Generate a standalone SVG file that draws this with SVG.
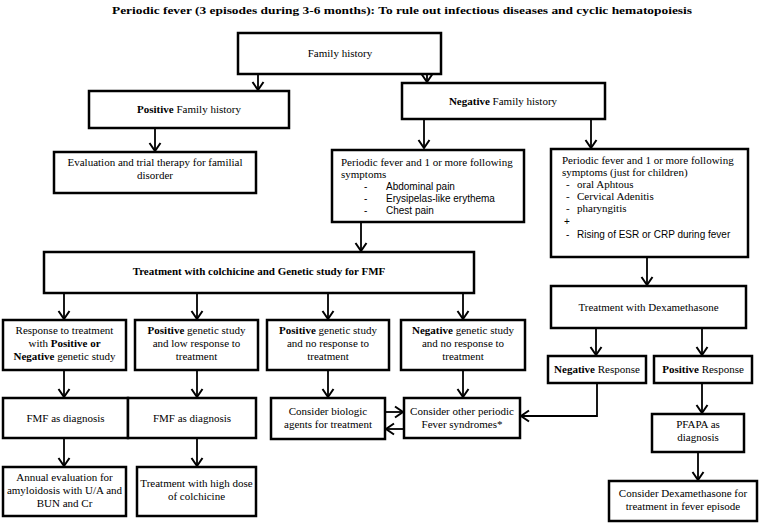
<svg xmlns="http://www.w3.org/2000/svg" width="759" height="523" viewBox="0 0 759 523">
<style>
.box{fill:#fff;stroke:#000;stroke-width:2.5}
.t{font-family:"Liberation Serif","Times New Roman",serif;font-size:11px;fill:#000;text-anchor:middle}
.tl{font-family:"Liberation Serif","Times New Roman",serif;font-size:11px;fill:#000}
.s{font-family:"Liberation Sans",Arial,sans-serif;font-size:10px;fill:#000}
.b{font-weight:bold}
.c{fill:none;stroke:#000;stroke-width:1.8}
</style>
<defs>
<marker id="ah" markerUnits="userSpaceOnUse" markerWidth="14" markerHeight="14" refX="10" refY="7" orient="auto">
<path d="M2,1.5 L10,7 L2,12.5" fill="none" stroke="#000" stroke-width="2"/>
</marker>
</defs>
<rect width="759" height="523" fill="#fff"/>
<text x="402" y="14" class="t b" font-size="12" textLength="580" lengthAdjust="spacingAndGlyphs">Periodic fever (3 episodes during 3-6 months): To rule out infectious diseases and cyclic hematopoiesis</text>

<g id="connectors">
<path class="c" d="M258,74 V90" marker-end="url(#ah)"/>
<path class="c" d="M427,74 V82" marker-end="url(#ah)"/>
<path class="c" d="M155,128 V151" marker-end="url(#ah)"/>
<path class="c" d="M424,119 V148" marker-end="url(#ah)"/>
<path class="c" d="M591,119 V148" marker-end="url(#ah)"/>
<path class="c" d="M361,222 V251" marker-end="url(#ah)"/>
<path class="c" d="M64,293 V319" marker-end="url(#ah)"/>
<path class="c" d="M197,293 V319" marker-end="url(#ah)"/>
<path class="c" d="M328,293 V319" marker-end="url(#ah)"/>
<path class="c" d="M463,293 V319" marker-end="url(#ah)"/>
<path class="c" d="M647,257 V285" marker-end="url(#ah)"/>
<path class="c" d="M596,328 V355" marker-end="url(#ah)"/>
<path class="c" d="M702,328 V355" marker-end="url(#ah)"/>
<path class="c" d="M64,370 V397" marker-end="url(#ah)"/>
<path class="c" d="M197,370 V397" marker-end="url(#ah)"/>
<path class="c" d="M328,370 V397" marker-end="url(#ah)"/>
<path class="c" d="M463,370 V397" marker-end="url(#ah)"/>
<path class="c" d="M385,412 H403" marker-end="url(#ah)"/>
<path class="c" d="M404,429 H386" marker-end="url(#ah)"/>
<path class="c" d="M597,383 V416 H521" marker-end="url(#ah)"/>
<path class="c" d="M702,383 V413" marker-end="url(#ah)"/>
<path class="c" d="M698,452 V480" marker-end="url(#ah)"/>
<path class="c" d="M64,438 V466" marker-end="url(#ah)"/>
<path class="c" d="M197,438 V466" marker-end="url(#ah)"/>
</g>

<g id="family">
<rect class="box" x="238" y="33" width="203" height="41"/>
<text class="t" x="340" y="57">Family history</text>
</g>
<g id="posfamily">
<rect class="box" x="89" y="91" width="200" height="37"/>
<text class="t" x="189" y="113"><tspan class="b">Positive</tspan> Family history</text>
</g>
<g id="negfamily">
<rect class="box" x="402" y="83" width="203" height="36"/>
<text class="t" x="503" y="105"><tspan class="b">Negative</tspan> Family history</text>
</g>
<g id="evaluation">
<rect class="box" x="54" y="152" width="202" height="41"/>
<text class="t" x="155" y="166">Evaluation and trial therapy for familial</text>
<text class="t" x="155" y="179">disorder</text>
</g>
<g id="periodic-left">
<rect class="box" x="332" y="150" width="192" height="72"/>
<text class="tl" x="341" y="166">Periodic fever and 1 or more following</text>
<text class="tl" x="341" y="178">symptoms</text>
<text class="s" x="364" y="190">-</text><text class="s" x="386" y="190">Abdominal pain</text>
<text class="s" x="364" y="202">-</text><text class="s" x="386" y="202">Erysipelas-like erythema</text>
<text class="s" x="364" y="214">-</text><text class="s" x="386" y="214">Chest pain</text>
</g>
<g id="periodic-right">
<rect class="box" x="551" y="149" width="197" height="108"/>
<text class="tl" x="562" y="164">Periodic fever and 1 or more following</text>
<text class="tl" x="562" y="176">symptoms (just for children)</text>
<text class="tl" x="566" y="188">-</text><text class="tl" x="577" y="188">oral Aphtous</text>
<text class="tl" x="566" y="200">-</text><text class="tl" x="577" y="200">Cervical Adenitis</text>
<text class="tl" x="566" y="212">-</text><text class="tl" x="577" y="212">pharyngitis</text>
<text class="s" x="564" y="225">+</text>
<text class="s" x="566" y="238">-</text><text class="s" x="577" y="238">Rising of ESR or CRP during fever</text>
</g>
<g id="treatment">
<rect class="box" x="44" y="252" width="430" height="41"/>
<text class="t b" x="259" y="275">Treatment with colchicine and Genetic study for FMF</text>
</g>
<g id="r1">
<rect class="box" x="3" y="320" width="123" height="50"/>
<text class="t" x="64.5" y="334">Response to treatment</text>
<text class="t" x="64.5" y="347">with <tspan class="b">Positive or</tspan></text>
<text class="t" x="64.5" y="360"><tspan class="b">Negative</tspan> genetic study</text>
</g>
<g id="r2">
<rect class="box" x="135" y="320" width="123" height="50"/>
<text class="t" x="196.5" y="334"><tspan class="b">Positive</tspan> genetic study</text>
<text class="t" x="196.5" y="347">and low response to</text>
<text class="t" x="196.5" y="360">treatment</text>
</g>
<g id="r3">
<rect class="box" x="267" y="320" width="122" height="50"/>
<text class="t" x="328" y="334"><tspan class="b">Positive</tspan> genetic study</text>
<text class="t" x="328" y="347">and no response to</text>
<text class="t" x="328" y="360">treatment</text>
</g>
<g id="r4">
<rect class="box" x="401" y="320" width="124" height="50"/>
<text class="t" x="463" y="334"><tspan class="b">Negative</tspan> genetic study</text>
<text class="t" x="463" y="347">and no response to</text>
<text class="t" x="463" y="360">treatment</text>
</g>
<g id="dexa">
<rect class="box" x="551" y="286" width="195" height="42"/>
<text class="t" x="648.5" y="311">Treatment with Dexamethasone</text>
</g>
<g id="negresp">
<rect class="box" x="548" y="356" width="98" height="27"/>
<text class="t" x="597" y="373"><tspan class="b">Negative</tspan> Response</text>
</g>
<g id="posresp">
<rect class="box" x="654" y="356" width="98" height="27"/>
<text class="t" x="703" y="373"><tspan class="b">Positive</tspan> Response</text>
</g>
<g id="fmf1">
<rect class="box" x="3" y="398" width="125" height="40"/>
<text class="t" x="65.5" y="422">FMF as diagnosis</text>
</g>
<g id="fmf2">
<rect class="box" x="128" y="398" width="128" height="40"/>
<text class="t" x="192" y="422">FMF as diagnosis</text>
</g>
<g id="biologic">
<rect class="box" x="271" y="398" width="114" height="41"/>
<text class="t" x="328" y="415">Consider biologic</text>
<text class="t" x="328" y="428">agents for treatment</text>
</g>
<g id="other">
<rect class="box" x="404" y="398" width="116" height="40"/>
<text class="t" x="462" y="415">Consider other periodic</text>
<text class="t" x="462" y="428">Fever syndromes*</text>
</g>
<g id="pfapa">
<rect class="box" x="652" y="414" width="92" height="38"/>
<text class="t" x="698" y="428">PFAPA as</text>
<text class="t" x="698" y="441">diagnosis</text>
</g>
<g id="annual">
<rect class="box" x="3" y="467" width="123" height="49"/>
<text class="t" x="64.5" y="481">Annual evaluation for</text>
<text class="t" x="64.5" y="494">amyloidosis with U/A and</text>
<text class="t" x="64.5" y="507">BUN and Cr</text>
</g>
<g id="highdose">
<rect class="box" x="137" y="467" width="119" height="49"/>
<text class="t" x="196.5" y="487">Treatment with high dose</text>
<text class="t" x="196.5" y="500">of colchicine</text>
</g>
<g id="considerdexa">
<rect class="box" x="609" y="481" width="148" height="40"/>
<text class="t" x="683" y="497">Consider Dexamethasone for</text>
<text class="t" x="683" y="510">treatment in fever episode</text>
</g>
</svg>
